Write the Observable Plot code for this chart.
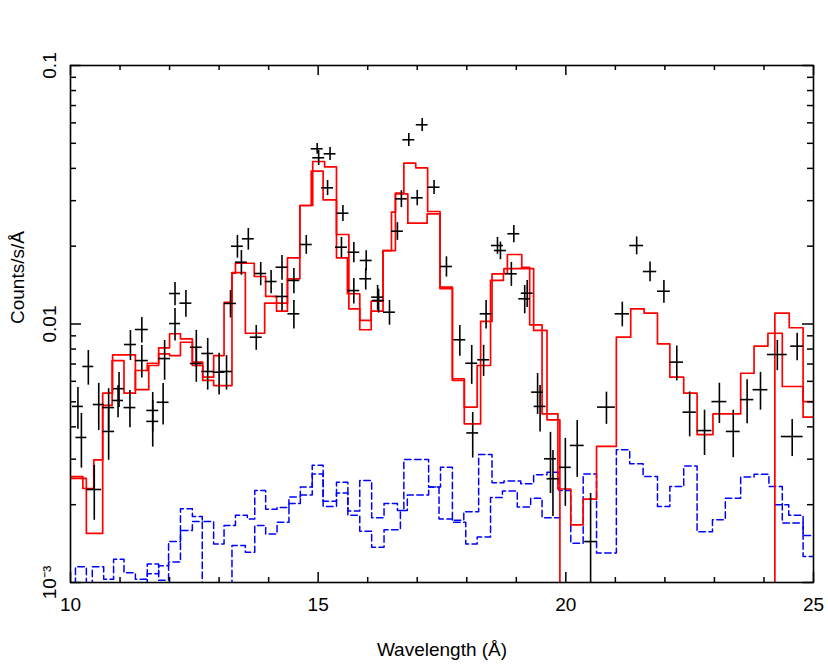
<!DOCTYPE html>
<html>
<head>
<meta charset="utf-8">
<script src="https://cdn.jsdelivr.net/npm/d3@7"></script>
<script src="https://cdn.jsdelivr.net/npm/@observablehq/plot@0.6"></script>
<style>
  html, body { margin: 0; padding: 0; background: #fff; }
  #chart { width: 828px; height: 664px; }
</style>
</head>
<body>
<div id="chart"></div>
<script>
// ---------- data ----------
// observed spectrum: wavelength (Å), rate (counts/s/Å), 1-sigma error, bin half width (Å)
const lambda = [10.15,10.22,10.36,10.48,10.57,10.77,10.77,10.96,10.98,11.20,
  11.21,11.44,11.44,11.66,11.66,11.87,11.90,12.11,12.11,12.33,
  12.54,12.54,12.77,12.77,13.00,13.15,13.23,13.37,13.45,13.59,
  13.75,13.84,14.05,14.27,14.27,14.51,14.51,14.76,14.98,15.01,
  15.24,15.19,15.50,15.47,15.72,15.72,15.97,15.96,16.20,16.22,
  16.44,16.60,16.68,16.83,17.00,17.10,17.34,17.59,17.86,18.10,
  18.12,18.34,18.39,18.62,18.68,18.95,18.90,19.17,19.22,19.43,
  19.48,19.69,19.74,19.99,20.23,20.50,20.82,21.14,21.43,21.70,
  21.98,22.24,22.50,22.80,23.10,23.38,23.66,23.93,24.27,24.67,
  24.57];
const rate = [0.00480,0.00364,0.00685,0.00229,0.00488,0.00475,0.00384,0.00506,0.00562,0.00475,
  0.00833,0.00952,0.00722,0.00463,0.00420,0.00498,0.00735,0.01312,0.01004,0.01204,
  0.00813,0.00703,0.00769,0.00655,0.00651,0.00655,0.01201,0.01999,0.01734,0.02136,
  0.00889,0.01568,0.01460,0.01658,0.01278,0.01474,0.01095,0.02030,0.04762,0.04395,
  0.04554,0.03364,0.02683,0.01982,0.01895,0.01347,0.01761,0.01496,0.01270,0.01233,
  0.01111,0.02286,0.03049,0.05161,0.03077,0.05898,0.03382,0.01669,0.00869,0.00705,
  0.00379,0.00727,0.01095,0.02012,0.01924,0.02234,0.01564,0.01252,0.01316,0.00545,
  0.00480,0.00301,0.00252,0.00279,0.00339,0.00144,0.00477,0.01095,0.02012,0.01596,
  0.01339,0.00712,0.00456,0.00387,0.00501,0.00384,0.00510,0.00557,0.00762,0.00821,
  0.00367];
const rateErr = [0.00088,0.00087,0.00105,0.00055,0.00101,0.00087,0.00087,0.00072,0.00087,0.00078,
  0.00111,0.00108,0.00104,0.00080,0.00086,0.00091,0.00129,0.00135,0.00144,0.00143,
  0.00131,0.00108,0.00110,0.00100,0.00120,0.00100,0.00146,0.00201,0.00190,0.00205,
  0.00098,0.00162,0.00150,0.00183,0.00156,0.00165,0.00138,0.00170,0.00230,0.00290,
  0.00260,0.00225,0.00190,0.00180,0.00170,0.00153,0.00160,0.00143,0.00140,0.00130,
  0.00122,0.00180,0.00230,0.00300,0.00210,0.00340,0.00210,0.00150,0.00118,0.00121,
  0.00076,0.00100,0.00138,0.00150,0.00150,0.00170,0.00166,0.00157,0.00158,0.00098,
  0.00098,0.00080,0.00072,0.00082,0.00084,0.00077,0.00068,0.00120,0.00160,0.00140,
  0.00135,0.00110,0.00090,0.00077,0.00089,0.00080,0.00099,0.00093,0.00102,0.00100,
  0.00060];
const halfWidth = [0.11,0.11,0.11,0.15,0.11,0.12,0.12,0.11,0.11,0.12,
  0.12,0.13,0.13,0.12,0.12,0.12,0.12,0.11,0.11,0.12,
  0.12,0.12,0.12,0.12,0.12,0.12,0.12,0.12,0.12,0.12,
  0.12,0.12,0.12,0.12,0.12,0.12,0.12,0.12,0.12,0.12,
  0.12,0.12,0.12,0.12,0.12,0.12,0.12,0.12,0.12,0.12,
  0.12,0.12,0.12,0.12,0.12,0.12,0.12,0.12,0.12,0.12,
  0.12,0.12,0.12,0.12,0.12,0.12,0.12,0.12,0.12,0.12,
  0.12,0.12,0.12,0.12,0.14,0.12,0.18,0.145,0.14,0.135,
  0.13,0.135,0.135,0.15,0.15,0.14,0.135,0.15,0.20,0.13,
  0.22];

// model spectra (step functions): bin edges (Å) and model rate per bin; 0 = no coverage
const modelAEdges = [10.00,10.25,10.32,10.65,10.84,11.08,11.31,11.55,11.78,12.00,
  12.22,12.46,12.67,12.89,13.10,13.26,13.33,13.71,13.94,14.16,
  14.38,14.63,14.86,15.10,15.37,15.59,15.84,16.07,16.31,16.56,
  16.81,17.20,17.46,17.71,17.95,18.21,18.48,18.74,18.82,19.11,
  19.27,19.52,19.84,20.10,20.35,20.62,21.02,21.31,21.58,21.85,
  22.10,22.38,22.65,22.97,23.53,23.80,24.08,24.37,24.79,25.00];
const modelAValues = [0.00257,0.00253,0.00155,0.00484,0.00722,0.00540,0.00661,0.00705,0.00809,0.00917,
  0.00876,0.00712,0.00623,0.00755,0.01214,0.01572,0.01718,0.01527,0.01278,0.01121,
  0.01803,0.02874,0.03900,0.03023,0.01803,0.01309,0.01032,0.01225,0.01924,0.03189,
  0.02454,0.02669,0.01388,0.00614,0.00477,0.00691,0.01474,0.01568,0.01857,0.01658,
  0.00993,0.00449,0.00230,0.00167,0.00210,0.00336,0.00889,0.01145,0.01101,0.00838,
  0.00623,0.00540,0.00373,0.00449,0.00645,0.00821,0.00921,0.00573,0.00501];
const modelBEdges = [10.00,10.25,10.47,10.65,10.85,11.31,11.58,11.78,12.00,12.22,
  12.46,12.67,12.89,13.26,13.53,13.92,14.38,14.63,14.89,15.13,
  15.37,15.62,15.84,16.07,16.31,16.48,16.56,16.73,16.97,17.21,
  17.46,17.71,17.95,18.28,18.51,18.75,19.35,19.62,19.88,24.22,
  24.51,24.79,25.00];
const modelBValues = [0.00253,0.00231,0.00298,0.00540,0.00760,0.00557,0.00691,0.00767,0.00755,0.00850,
  0.00691,0.00605,0.00578,0.01580,0.00921,0.01204,0.01496,0.02874,0.04252,0.04053,
  0.02219,0.01145,0.00950,0.01121,0.01924,0.02707,0.03206,0.04190,0.04021,0.02724,
  0.01369,0.00605,0.00411,0.01023,0.01564,0.01639,0.00944,0.00426,0,0.01101,
  0.00967,0.00436];

// background spectra (step functions); 0 = below plot floor, null = no coverage
const bgAEdges = [10.00,10.10,10.32,10.44,10.67,10.87,11.08,11.31,11.55,11.78,
  11.98,12.22,12.46,12.66,12.89,13.10,13.33,13.57,13.72,13.94,
  14.17,14.41,14.64,14.88,15.10,15.37,15.60,15.84,16.08,16.33,
  16.60,16.73,17.23,17.47,17.71,17.94,18.24,18.51,18.75,19.09,
  19.35,19.62,19.86,20.10,20.35,20.62,21.02,21.29,21.56,21.85,
  22.10,22.38,22.65,22.96,23.22,23.53,23.80,24.10,24.37,24.79,25.00];
const bgAValues = [0,0.00115,0,0.00115,0.00103,0.00123,0.00109,0.00103,0.00118,0.00102,
  0.00144,0.00193,0.00180,0.00172,0.00141,0.00166,0.00182,0.00176,0.00227,0.00192,
  0.00195,0.00214,0.00234,0.00284,0.00206,0.00244,0.00189,0.00248,0.00178,0.00202,
  0.00190,0.00299,0.00234,0.00279,0.00174,0.00188,0.00313,0.00243,0.00247,0.00241,
  0.00261,0.00267,0.00227,0.00142,0.00263,0.00130,0.00326,0.00288,0.00257,0.00197,
  0.00235,0.00282,0.00157,0.00175,0.00212,0.00256,0.00262,0.00235,0.00170,0.00126];
const bgBEdges = [10.00,11.55,11.78,11.98,12.22,12.46,12.66,13.26,13.53,13.72,
  13.94,14.17,14.41,14.64,14.88,15.10,15.37,15.60,15.84,16.08,
  16.33,16.66,16.80,17.23,17.44,17.71,17.98,18.21,18.48,18.72,
  19.02,19.29,19.52,19.88,24.22,24.50,24.79,25.00];
const bgBValues = [0,0.00108,0.00116,0.00120,0.00159,0.00172,0,0.00139,0.00131,0.00166,
  0.00154,0.00171,0.00202,0.00218,0.00263,0.00197,0.00222,0.00182,0.00158,0.00137,
  0.00160,0.00190,0.00218,0.00234,0.00176,0.00171,0.00141,0.00150,0.00213,0.00226,
  0.00196,0.00212,0.00178,null,0.00200,0.00182,0.00152];

// axis ticks and labels
const xMajor = [10, 15, 20, 25];
const xMinor = [11, 12, 13, 14, 16, 17, 18, 19, 21, 22, 23, 24];
const yMajor = [0.001, 0.01, 0.1];
const yMinor = [0.002,0.003,0.004,0.005,0.006,0.007,0.008,0.009,
                0.02,0.03,0.04,0.05,0.06,0.07,0.08,0.09];
const yLabels = ["10\u207B\u00B3", "0.01", "0.1"];
const xTitle = "Wavelength (\u00C5)";
const yTitle = "Counts/s/\u00C5";

// ---------- build ----------
const W = 828, H = 664, mt = 65, mb = 82, ml = 70, mr = 15;
const ph = H - mt - mb, pw = W - ml - mr;
const FLOOR = 1e-5; // zero rates drawn below the axis floor (clipped)

function stepPoints(edges, values) {
  const pts = [];
  values.forEach((v, i) => {
    pts.push({x: edges[i], v}, {x: edges[i + 1], v});
  });
  return pts;
}
const yOf = d => d.v === null ? NaN : (d.v === 0 ? FLOOR : d.v);

const obs = lambda.map((x, i) => ({x, y: rate[i], e: rateErr[i], hw: halfWidth[i]}));

const red = "#ff0000", blue = "#0000ff";
const FS = 19;

const chart = Plot.plot({
  width: W, height: H,
  marginTop: mt, marginBottom: mb, marginLeft: ml, marginRight: mr,
  style: {fontFamily: "'Liberation Sans', Arial, Helvetica, sans-serif", fontSize: FS + "px", background: "#fff", color: "#000"},
  x: {domain: [10, 25], axis: null},
  y: {type: "log", domain: [0.001, 0.1], axis: null},
  marks: [
    // backgrounds
    Plot.line(stepPoints(bgAEdges, bgAValues), {x: "x", y: yOf, stroke: blue, strokeWidth: 1.5, strokeDasharray: "6.5,3.5", clip: true}),
    Plot.line(stepPoints(bgBEdges, bgBValues), {x: "x", y: yOf, stroke: blue, strokeWidth: 1.5, strokeDasharray: "6.5,3.5", clip: true}),
    // models
    Plot.line(stepPoints(modelAEdges, modelAValues), {x: "x", y: yOf, stroke: red, strokeWidth: 1.7, clip: true}),
    Plot.line(stepPoints(modelBEdges, modelBValues), {x: "x", y: yOf, stroke: red, strokeWidth: 1.7, clip: true}),
    // data crosses
    Plot.ruleX(obs, {x: "x", y1: d => d.y - d.e, y2: d => d.y + d.e, stroke: "#000", strokeWidth: 1.6, clip: true}),
    Plot.ruleY(obs, {y: "y", x1: d => d.x - d.hw, x2: d => d.x + d.hw, stroke: "#000", strokeWidth: 1.6, clip: true}),
    // frame
    Plot.frame({stroke: "#000", strokeWidth: 1.6}),
    // inward ticks, all four sides
    Plot.ruleX(xMajor, {x: d => d, insetTop: ph - 10, stroke: "#000", strokeWidth: 1.5}),
    Plot.ruleX(xMajor, {x: d => d, insetBottom: ph - 10, stroke: "#000", strokeWidth: 1.5}),
    Plot.ruleX(xMinor, {x: d => d, insetTop: ph - 5, stroke: "#000", strokeWidth: 1.5}),
    Plot.ruleX(xMinor, {x: d => d, insetBottom: ph - 5, stroke: "#000", strokeWidth: 1.5}),
    Plot.ruleY(yMajor, {y: d => d, insetRight: pw - 11, stroke: "#000", strokeWidth: 1.5}),
    Plot.ruleY(yMajor, {y: d => d, insetLeft: pw - 11, stroke: "#000", strokeWidth: 1.5}),
    Plot.ruleY(yMinor, {y: d => d, insetRight: pw - 6, stroke: "#000", strokeWidth: 1.5}),
    Plot.ruleY(yMinor, {y: d => d, insetLeft: pw - 6, stroke: "#000", strokeWidth: 1.5}),
    // tick labels
    Plot.text(xMajor, {x: d => d, frameAnchor: "bottom", dy: 22, text: d => String(d), fontSize: FS, lineAnchor: "middle", fill: "#000"}),
    Plot.text(yMajor, {y: d => d, frameAnchor: "left", dx: -15, rotate: -90, text: (d, i) => yLabels[i], fontSize: FS, textAnchor: "middle", lineAnchor: "bottom", fill: "#000"}),
    // axis titles
    Plot.text([xTitle], {frameAnchor: "bottom", dy: 67, text: d => d, fontSize: FS, lineAnchor: "middle", fill: "#000"}),
    Plot.text([yTitle], {frameAnchor: "left", dx: -53, rotate: -90, text: d => d, fontSize: FS, lineAnchor: "middle", fill: "#000"})
  ]
});
document.getElementById("chart").appendChild(chart);
</script>
</body>
</html>
